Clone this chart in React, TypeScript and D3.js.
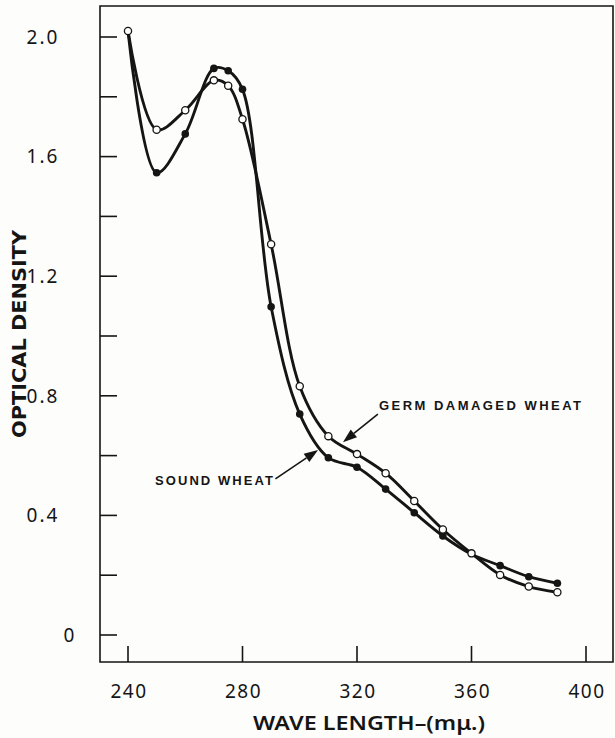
import React from "react";
import * as d3 from "d3";

const wavelengths = [240, 250, 260, 270, 275, 280, 290, 300, 310, 320, 330, 340, 350, 360, 370, 380, 390];
const germDamaged = [2.02, 1.69, 1.755, 1.855, 1.837, 1.725, 1.307, 0.832, 0.665, 0.605, 0.541, 0.448, 0.353, 0.273, 0.201, 0.162, 0.143];
const soundWheat = [2.02, 1.546, 1.676, 1.895, 1.887, 1.825, 1.098, 0.739, 0.593, 0.561, 0.488, 0.409, 0.331, 0.27, 0.232, 0.195, 0.173];
const soundVisible = [false, true, true, true, true, true, true, true, true, true, true, true, true, false, true, true, true];
const xTicks = [240, 280, 320, 360, 400];
const yTickLabels = [0, 0.4, 0.8, 1.2, 1.6, 2.0];
const yMinorTicks = [0.2, 0.6, 1.0, 1.4, 1.8];

const W = 615, H = 738;
const frame = { left: 100, top: 6, right: 613, bottom: 662 };

export default function App() {
  const x = d3.scaleLinear().domain([240, 400]).range([128, 586]);
  const y = d3.scaleLinear().domain([0, 2]).range([635, 37]);
  const line = d3
    .line<[number, number]>()
    .x((d) => x(d[0]))
    .y((d) => y(d[1]))
    .curve(d3.curveCatmullRom.alpha(0.5));

  const gData: [number, number][] = wavelengths.map((w, i) => [w, germDamaged[i]]);
  const sData: [number, number][] = wavelengths.map((w, i) => [w, soundWheat[i]]);

  const ink = "#151515";
  const tickFont = "'Noto Sans', 'DejaVu Sans', sans-serif";
  const boldFont = "'Liberation Sans', Arial, sans-serif";
  const condFont = "'DejaVu Sans Condensed', 'Liberation Sans Narrow', 'DejaVu Sans', sans-serif";

  const arrow = (x1: number, y1: number, x2: number, y2: number, key: string) => {
    const px1 = x(x1), py1 = y(y1), px2 = x(x2), py2 = y(y2);
    const ang = Math.atan2(py2 - py1, px2 - px1);
    const hl = 14, hw = 5;
    const bx = px2 - hl * Math.cos(ang), by = py2 - hl * Math.sin(ang);
    const nx = -Math.sin(ang), ny = Math.cos(ang);
    const pts = `${px2},${py2} ${bx + nx * hw},${by + ny * hw} ${bx - nx * hw},${by - ny * hw}`;
    return (
      <g key={key}>
        <line x1={px1} y1={py1} x2={bx} y2={by} stroke={ink} strokeWidth={1.6} />
        <polygon points={pts} fill={ink} />
      </g>
    );
  };

  return (
    <svg width={W} height={H} style={{ position: "absolute", left: 0, top: 0, background: "#fdfdfb" }}>
      <rect x={0} y={0} width={W} height={H} fill="#fdfdfb" />
      <path
        d={`M${frame.left},${frame.top} L${frame.right},${frame.top} L${frame.right},${frame.bottom} L${frame.left},${frame.bottom} Z`}
        fill="none"
        stroke={ink}
        strokeWidth={1.6}
      />
      {[...yTickLabels, ...yMinorTicks].map((v) => (
        <line key={"yt" + v} x1={frame.left} x2={frame.left + 17} y1={y(v)} y2={y(v)} stroke={ink} strokeWidth={1.6} />
      ))}
      {yTickLabels.map((v) => (
        <text
          key={"yl" + v}
          x={v === 0 ? 70 : 43}
          y={y(v)}
          dy="0.36em"
          textAnchor="middle"
          fontFamily={tickFont}
          fontSize={19}
          letterSpacing={2}
          fill={ink}
        >
          {v === 0 ? "0" : v.toFixed(1)}
        </text>
      ))}
      {xTicks.map((v) => (
        <g key={"xt" + v}>
          <line x1={x(v)} x2={x(v)} y1={frame.bottom} y2={frame.bottom - 16} stroke={ink} strokeWidth={1.6} />
          <text x={x(v) + 1} y={698} textAnchor="middle" fontFamily={tickFont} fontSize={19} letterSpacing={1.5} fill={ink}>
            {v}
          </text>
        </g>
      ))}
      <text
        x={253}
        y={730}
        textLength={232}
        lengthAdjust="spacingAndGlyphs"
        fontFamily={tickFont}
        fontSize={19}
        fontWeight={600}
        fill={ink}
      >
        WAVE LENGTH–(mμ.)
      </text>
      <text
        transform={`translate(26,438) rotate(-90)`}
        textLength={208}
        lengthAdjust="spacingAndGlyphs"
        fontFamily={condFont}
        fontStretch="condensed"
        fontSize={20}
        fontWeight={700}
        fill={ink}
      >
        OPTICAL DENSITY
      </text>
      <path d={line(sData) || ""} fill="none" stroke={ink} strokeWidth={2.9} strokeLinejoin="round" />
      <path d={line(gData) || ""} fill="none" stroke={ink} strokeWidth={2.9} strokeLinejoin="round" />
      {sData.map((d, i) =>
        soundVisible[i] ? <circle key={"s" + i} cx={x(d[0])} cy={y(d[1])} r={3.8} fill={ink} /> : null
      )}
      {gData.map((d, i) => (
        <circle key={"g" + i} cx={x(d[0])} cy={y(d[1])} r={3.6} fill="#fff" stroke={ink} strokeWidth={1.3} />
      ))}
      <text x={379} y={410} textLength={202} lengthAdjust="spacing" fontFamily={boldFont} fontSize={13} fontWeight={700} fill={ink}>
        GERM DAMAGED WHEAT
      </text>
      {arrow(327.3, 0.739, 315.1, 0.645, "ga")}
      <text x={155} y={485} textLength={118} lengthAdjust="spacing" fontFamily={boldFont} fontSize={13} fontWeight={700} fill={ink}>
        SOUND WHEAT
      </text>
      {arrow(291.5, 0.522, 306.4, 0.619, "sa")}
    </svg>
  );
}
